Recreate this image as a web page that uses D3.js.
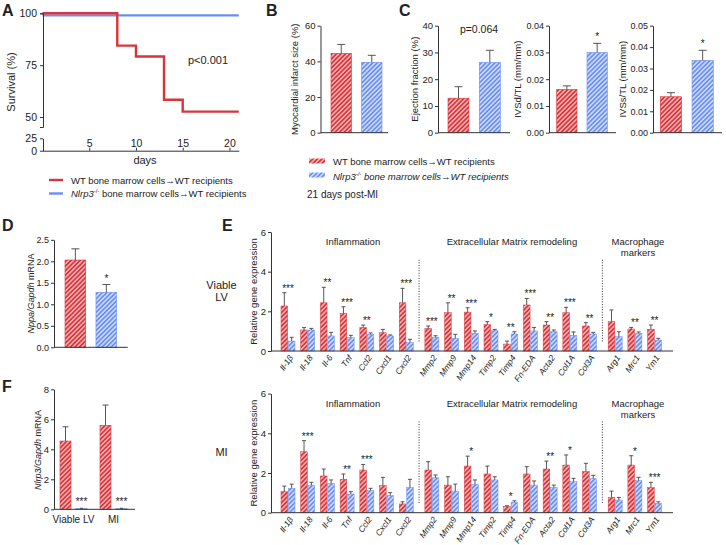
<!DOCTYPE html>
<html><head><meta charset="utf-8">
<script src="https://cdn.jsdelivr.net/npm/d3@7"></script>
<style>body{margin:0;background:#fff}</style>
</head><body><svg id="c" width="726" height="545"></svg>
<script>
// ---------------- DATA ----------------
const survDays = [0, 8, 10, 13, 15, 21];
const survWT = [100, 84.4, 79.2, 58.3, 52.6, 52.6];
const survKODays = [0, 21];
const survKO = [99, 99];
const survXTicks = [5, 10, 15, 20];
const survYTicksTop = [50, 75, 100];
const survYTicksBottom = [0, 25];

const groups = ["WT", "KO"];
const infarctMean = [44.5, 39.5], infarctErr = [5.0, 3.9];
const efMean = [12.9, 26.3], efErr = [4.3, 4.5];
const ivsdMean = [0.0162, 0.0300], ivsdErr = [0.0013, 0.0034];
const ivssMean = [0.0168, 0.0338], ivssErr = [0.0019, 0.0047];
const nppaMean = [2.03, 1.28], nppaErr = [0.26, 0.18];

const nlrpCats = ["Viable LV", "MI"];
const nlrpWT = [4.55, 5.6], nlrpWTErr = [0.95, 1.35];
const nlrpKO = [0.05, 0.05], nlrpKOErr = [0.02, 0.02];

const genes = ["Il-1β","Il-18","Il-6","Tnf","Ccl2","Cxcl1","Cxcl2","Mmp2","Mmp9","Mmp14","Timp2","Timp4","Fn-EDA","Acta2","Col1A","Col3A","Arg1","Mrc1","Ym1"];
const geneGroup = [0,0,0,0,0,0,0,1,1,1,1,1,1,1,1,1,2,2,2];
const geneGroupNames = [["Inflammation"], ["Extracellular Matrix remodeling"], ["Macrophage", "markers"]];

const lvWT    = [2.27,1.06,2.43,1.90,1.18,0.92,2.43,1.14,1.93,1.96,1.33,0.35,2.32,1.31,1.93,1.26,1.48,1.11,1.09];
const lvWTErr = [0.67,0.12,0.78,0.33,0.13,0.17,0.73,0.12,0.50,0.22,0.15,0.15,0.33,0.17,0.27,0.17,0.59,0.08,0.22];
const lvKO    = [0.50,1.06,0.76,0.67,0.84,0.76,0.42,0.69,0.64,0.89,1.02,0.86,1.01,0.97,0.79,0.86,0.72,0.89,0.55];
const lvKOErr = [0.19,0.08,0.18,0.12,0.07,0.05,0.17,0.08,0.20,0.12,0.07,0.11,0.18,0.09,0.17,0.08,0.25,0.07,0.09];
const lvStars = ["***","","**","***","**","","***","***","**","***","*","**","***","**","***","**","","**","**"];

const miWT    = [1.06,3.07,1.85,1.68,2.15,1.36,0.44,2.15,1.39,2.35,1.95,0.30,1.95,2.20,2.40,2.07,0.77,2.40,1.26];
const miWTErr = [0.28,0.56,0.35,0.27,0.28,0.42,0.11,0.42,0.42,0.50,0.40,0.05,0.37,0.40,0.51,0.42,0.32,0.47,0.27];
const miKO    = [1.23,1.39,1.48,0.94,1.11,0.86,1.28,1.76,1.09,1.43,1.65,0.52,1.39,1.28,1.56,1.71,0.64,1.61,0.47];
const miKOErr = [0.21,0.14,0.17,0.12,0.12,0.15,0.40,0.14,0.35,0.22,0.16,0.08,0.21,0.11,0.17,0.17,0.13,0.17,0.08];
const miStars = ["","***","","**","***","","","","","*","","*","","**","*","","","*","***"];

// ---------------- SETUP ----------------
const FONT = "'Liberation Sans', Arial, Helvetica, sans-serif";
const RED = "#d8353b", RED_BG = "#f5adb0";
const BLUE = "#6a8ff2", BLUE_BG = "#cbd8fc";
const AX = "#333";
const TICK_FS = 9.5;
const svg = d3.select("#c").attr("font-family", FONT);
svg.append("rect").attr("width",726).attr("height",545).attr("fill","#fff");
const defs = svg.append("defs");
function mkPattern(id, bg, fg){
  const p = defs.append("pattern").attr("id", id).attr("patternUnits","userSpaceOnUse")
    .attr("width", 3.2).attr("height", 3.2).attr("patternTransform","rotate(45)");
  p.append("rect").attr("width",3.2).attr("height",3.2).attr("fill",bg);
  p.append("rect").attr("width",1.6).attr("height",3.2).attr("fill",fg);
}
mkPattern("hatchWT", RED_BG, RED);
mkPattern("hatchKO", BLUE_BG, BLUE);
const fillOf = {WT:"url(#hatchWT)", KO:"url(#hatchKO)"};
const strokeOf = {WT:RED, KO:BLUE};

function styleAxis(g, fs){
  g.attr("font-family", FONT).attr("font-size", fs);
  g.select(".domain").attr("stroke", AX).attr("stroke-width", 1);
  g.selectAll(".tick line").attr("stroke", AX);
  g.selectAll(".tick text").attr("fill", "#222");
}
function text(x, y, s, o = {}){
  return svg.append("text").attr("x", x).attr("y", y).text(s)
    .attr("font-size", o.fs || 9.5).attr("fill", "#222")
    .attr("text-anchor", o.anchor || "start")
    .attr("font-weight", o.bold ? "bold" : null)
    .attr("font-style", o.italic ? "italic" : null);
}
function vLabel(x, yc, parts, fs){
  const t = svg.append("text").attr("transform", `translate(${x},${yc}) rotate(-90)`)
    .attr("text-anchor","middle").attr("font-size", fs || 9.5).attr("fill","#222").attr("dy","0.35em");
  parts.forEach(p => t.append("tspan").text(p[0]).attr("font-style", p[1] ? "italic" : null));
}
function errBar(g, cx, yMean, yTop, cap){
  g.append("line").attr("x1",cx).attr("x2",cx).attr("y1",yMean).attr("y2",yTop).attr("stroke","#444").attr("stroke-width",0.9);
  g.append("line").attr("x1",cx-cap/2).attr("x2",cx+cap/2).attr("y1",yTop).attr("y2",yTop).attr("stroke","#444").attr("stroke-width",0.9);
}

// panel letters
text(2, 16, "A", {fs:16, bold:true});
text(266, 16, "B", {fs:16, bold:true});
text(399, 16, "C", {fs:16, bold:true});
text(2, 231, "D", {fs:16, bold:true});
text(222, 231, "E", {fs:16, bold:true});
text(2, 392, "F", {fs:16, bold:true});

// ---------------- PANEL A ----------------
(function(){
  const x = d3.scaleLinear().domain([0, 21]).range([42.5, 238.8]);
  const yT = d3.scaleLinear().domain([45.2, 100]).range([127, 13.3]);
  const yB = d3.scaleLinear().domain([0, 25]).range([150.7, 138.3]);
  const yv = v => v >= 45 ? yT(v) : yB(v);
  const line = d3.line().x(d => x(d[0])).y(d => yv(d[1])).curve(d3.curveStepAfter);
  svg.append("path").datum(survKODays.map((d,i)=>[d, survKO[i]])).attr("d", line)
    .attr("fill","none").attr("stroke", BLUE).attr("stroke-width", 2.4);
  svg.append("path").datum(survDays.map((d,i)=>[d, survWT[i]])).attr("d", line)
    .attr("fill","none").attr("stroke", RED).attr("stroke-width", 2.4);
  const gT = svg.append("g").attr("transform","translate(43,0)")
    .call(d3.axisLeft(yT).tickValues(survYTicksTop).tickSize(3).tickSizeOuter(3));
  styleAxis(gT, 10.5);
  const gB = svg.append("g").attr("transform","translate(43,0)")
    .call(d3.axisLeft(yB).tickValues(survYTicksBottom).tickSize(3).tickSizeOuter(0));
  styleAxis(gB, 10.5);
  const gX = svg.append("g").attr("transform","translate(0,150.7)")
    .call(d3.axisTop(x).tickValues(survXTicks).tickSize(3).tickPadding(1).tickSizeOuter(0));
  styleAxis(gX, 10.5);
  text(145, 164, "days", {fs:11, anchor:"middle"});
  vLabel(11, 82, [["Survival (%)", false]], 11);
  text(208, 64, "p<0.001", {fs:11, anchor:"middle"});
  // legend
  svg.append("line").attr("x1",49).attr("x2",63).attr("y1",180).attr("y2",180).attr("stroke",RED).attr("stroke-width",2.4);
  svg.append("line").attr("x1",49).attr("x2",63).attr("y1",193.5).attr("y2",193.5).attr("stroke",BLUE).attr("stroke-width",2.4);
  text(71, 183.5, "WT bone marrow cells\u2192WT recipients", {fs:9.5});
  const t = text(71, 197, "", {fs:9.5});
  t.append("tspan").text("Nlrp3").attr("font-style","italic");
  t.append("tspan").text("-/-").attr("font-size",6).attr("dy",-4);
  t.append("tspan").text(" bone marrow cells\u2192WT recipients").attr("dy",4);
})();

// ---------------- simple bar panels ----------------
function barPanel(o){
  const g = svg.append("g");
  const y = d3.scaleLinear().domain([0, o.max]).range([o.y0, o.y1]);
  const x = d3.scaleBand().domain(groups).range(o.bars).paddingInner(0.33);
  groups.forEach((k,i) => {
    g.append("rect").attr("x", x(k)).attr("width", x.bandwidth())
      .attr("y", y(o.mean[i])).attr("height", o.y0 - y(o.mean[i]))
      .attr("fill", fillOf[k]).attr("stroke", strokeOf[k]).attr("stroke-width", 0.6);
    errBar(g, x(k) + x.bandwidth()/2, y(o.mean[i]), y(o.mean[i] + o.err[i]), 8);
    if (o.stars && o.stars[i]) {
      g.append("text").attr("x", x(k) + x.bandwidth()/2).attr("y", y(o.mean[i] + o.err[i]) - 3)
        .attr("text-anchor","middle").attr("font-size",10).attr("fill","#222").text(o.stars[i]);
    }
  });
  const ga = svg.append("g").attr("transform", `translate(${o.ax},0)`)
    .call(d3.axisLeft(y).tickValues(o.ticks).tickFormat(o.fmt).tickSize(3).tickPadding(2).tickSizeOuter(0));
  styleAxis(ga, o.tfs || TICK_FS);
  svg.append("line").attr("x1", o.ax).attr("x2", o.axEnd).attr("y1", o.y0).attr("y2", o.y0)
    .attr("stroke", AX).attr("stroke-width", 1);
  vLabel(o.lx, (o.y0 + o.y1)/2, o.label, o.lfs || 9.5);
}
barPanel({ax:320.5, axEnd:388, y0:132.7, y1:25.7, max:60, ticks:[0,20,40,60], fmt:d3.format("d"),
  bars:[331, 382], mean:infarctMean, err:infarctErr, lx:295, label:[["Myocardial infarct size (%)",false]]});
barPanel({ax:438, axEnd:510, y0:132.7, y1:25.7, max:40, ticks:[0,10,20,30,40], fmt:d3.format("d"),
  bars:[448, 500.3], mean:efMean, err:efErr, lx:415, label:[["Ejection fraction (%)",false]]});
text(479, 33, "p=0.064", {fs:10.5, anchor:"middle"});
barPanel({ax:549, axEnd:616, y0:132.7, y1:25.7, max:0.04, ticks:[0,0.01,0.02,0.03,0.04], fmt:d3.format(".2f"), tfs:9,
  bars:[556.7, 607.3], mean:ivsdMean, err:ivsdErr, stars:["","*"], lx:517.5, label:[["IVSd/TL (mm/mm)",false]]});
barPanel({ax:653, axEnd:722, y0:132.7, y1:25.7, max:0.05, ticks:[0,0.01,0.02,0.03,0.04,0.05], fmt:d3.format(".2f"), tfs:9,
  bars:[660.3, 713.3], mean:ivssMean, err:ivssErr, stars:["","*"], lx:622.5, label:[["IVSs/TL (mm/mm)",false]]});
barPanel({ax:54, axEnd:127.7, y0:347.3, y1:239.8, max:2.5, ticks:[0,0.5,1,1.5,2,2.5], fmt:d3.format(".1f"), tfs:9, lfs:9,
  bars:[65, 116.7], mean:nppaMean, err:nppaErr, stars:["","*"], lx:31, label:[["Nppa/Gapdh",true],[" mRNA",false]]});

// legend B/C
svg.append("rect").attr("x",309).attr("y",158.5).attr("width",16).attr("height",5).attr("fill",fillOf.WT);
svg.append("rect").attr("x",309).attr("y",172.5).attr("width",16).attr("height",5).attr("fill",fillOf.KO);
text(333, 165, "WT bone marrow cells\u2192WT recipients", {fs:9.5});
(function(){
  const t = text(333, 179.5, "", {fs:9.5, italic:true});
  t.append("tspan").text("Nlrp3");
  t.append("tspan").text("-/-").attr("font-size",6).attr("dy",-4);
  t.append("tspan").text(" bone marrow cells\u2192WT recipients").attr("dy",4);
})();
text(307, 198, "21 days post-MI", {fs:10});

// ---------------- PANEL F ----------------
(function(){
  const y = d3.scaleLinear().domain([0, 8]).range([509.3, 389.3]);
  const xg = d3.scaleBand().domain(nlrpCats).range([53.5, 133.5]);
  const xs = d3.scaleBand().domain(groups).range([-13.5, 13.5]).paddingInner(0.3125);
  const g = svg.append("g");
  nlrpCats.forEach((c, j) => {
    const cx = xg(c) + xg.bandwidth()/2;
    [[nlrpWT, nlrpWTErr, "WT"], [nlrpKO, nlrpKOErr, "KO"]].forEach(([m, e, k]) => {
      const bx = cx + xs(k);
      g.append("rect").attr("x", bx).attr("width", xs.bandwidth()).attr("y", y(m[j])).attr("height", 509.3 - y(m[j]))
        .attr("fill", fillOf[k]).attr("stroke", strokeOf[k]).attr("stroke-width", 0.6);
      errBar(g, bx + xs.bandwidth()/2, y(m[j]), y(m[j] + e[j]), k === "WT" ? 6 : 3);
      if (k === "KO") g.append("text").attr("x", bx + xs.bandwidth()/2).attr("y", y(m[j] + e[j]) - 3)
        .attr("text-anchor","middle").attr("font-size",10).attr("fill","#222").text("***");
    });
    text(cx, 522.5, c, {fs:10, anchor:"middle"});
  });
  const ga = svg.append("g").attr("transform","translate(54,0)")
    .call(d3.axisLeft(y).tickValues([0,2,4,6,8]).tickFormat(d3.format("d")).tickSize(3).tickPadding(2).tickSizeOuter(0));
  styleAxis(ga, TICK_FS);
  svg.append("line").attr("x1",54).attr("x2",135).attr("y1",509.3).attr("y2",509.3).attr("stroke",AX);
  vLabel(38, 450, [["Nlrp3/Gapdh",true],[" mRNA",false]], 9);
})();

// ---------------- PANEL E ----------------
function eChart(o){
  const y = d3.scaleLinear().domain([0, 6]).range([o.y0, o.y6]);
  const slot = genes.map((g, i) => i + 0.3 * geneGroup[i]);
  const x = d3.scaleLinear().domain([0, 18.6]).range([288, 654.6]);
  const xs = d3.scaleBand().domain(groups).range([-7, 7]).paddingInner(0.1);
  const g = svg.append("g");
  genes.forEach((name, i) => {
    const cx = x(slot[i]);
    [[o.wt, o.wtErr, "WT"], [o.ko, o.koErr, "KO"]].forEach(([m, e, k]) => {
      const bx = cx + xs(k);
      g.append("rect").attr("x", bx).attr("width", xs.bandwidth()).attr("y", y(m[i])).attr("height", o.y0 - y(m[i]))
        .attr("fill", fillOf[k]).attr("stroke", strokeOf[k]).attr("stroke-width", 0.5);
      errBar(g, bx + xs.bandwidth()/2, y(m[i]), y(m[i] + e[i]), 4);
    });
    if (o.stars[i]) {
      const top = Math.max(o.wt[i] + o.wtErr[i], o.ko[i] + o.koErr[i]);
      g.append("text").attr("x", cx).attr("y", y(top) - 1).attr("text-anchor","middle")
        .attr("font-size",10).attr("fill","#222").text(o.stars[i]);
    }
    g.append("text").attr("transform", `translate(${cx + 3},${o.y0 + 5}) rotate(-55)`)
      .attr("text-anchor","end").attr("dy","0.35em").attr("font-size",8.5).attr("font-style","italic")
      .attr("fill","#222").text(name);
  });
  // dotted separators between groups
  [[6, 7], [15, 16]].forEach(([a, b]) => {
    const sx = (x(slot[a]) + x(slot[b])) / 2;
    g.append("line").attr("x1", sx).attr("x2", sx).attr("y1", y(4.6)).attr("y2", y(0.45))
      .attr("stroke", AX).attr("stroke-width", 1).attr("stroke-dasharray","1,1.6");
  });
  const ga = svg.append("g").attr("transform","translate(271,0)")
    .call(d3.axisLeft(y).tickValues([0,2,4,6]).tickFormat(d3.format("d")).tickSize(3).tickPadding(2).tickSizeOuter(0));
  styleAxis(ga, TICK_FS);
  svg.append("line").attr("x1",271).attr("x2",673).attr("y1",o.y0).attr("y2",o.y0).attr("stroke",AX);
  vLabel(253.5, (o.y0 + o.y6)/2, [["Relative gene expression",false]], 9.5);
  // group headers
  const hx = [353, 512, 638];
  geneGroupNames.forEach((lines, gi) => lines.forEach((l, li) =>
    text(hx[gi], o.y6 + 13 + li * 11, l, {fs:9.5, anchor:"middle"})));
  o.side.forEach((l, li) => text(221.5, o.sideY + li * 11.5, l, {fs:11, anchor:"middle"}));
}
eChart({y0:351, y6:232, wt:lvWT, wtErr:lvWTErr, ko:lvKO, koErr:lvKOErr, stars:lvStars, side:["Viable","LV"], sideY:289});
eChart({y0:512.7, y6:393.6, wt:miWT, wtErr:miWTErr, ko:miKO, koErr:miKOErr, stars:miStars, side:["MI"], sideY:456});
</script></body></html>
